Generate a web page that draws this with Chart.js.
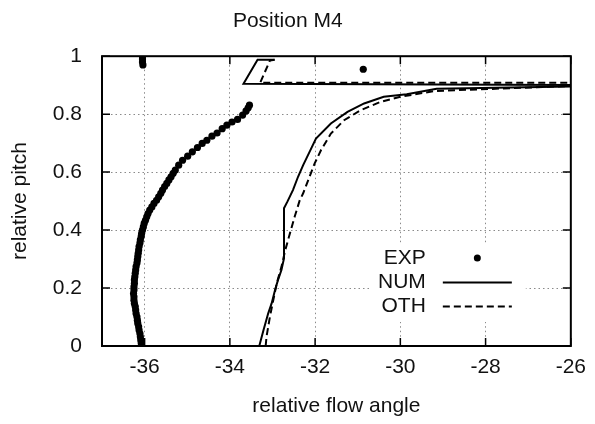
<!DOCTYPE html>
<html>
<head>
<meta charset="utf-8">
<script src="https://cdn.jsdelivr.net/npm/chart.js@4.4.1/dist/chart.umd.min.js"></script>
<style>
  html, body { margin: 0; padding: 0; background: #fff; }
  #wrap { width: 595px; height: 424px; }
</style>
</head>
<body>
<div id="wrap"><canvas id="grafico" width="595" height="424"></canvas></div>
<script>
// measured points, pitch going up
const expY = [0.000, 0.010, 0.021, 0.032, 0.043, 0.055, 0.066, 0.078, 0.089, 0.101,
    0.112, 0.124, 0.136, 0.147, 0.158, 0.170, 0.181, 0.193, 0.204, 0.216,
    0.228, 0.239, 0.251, 0.262, 0.274, 0.286, 0.297, 0.309, 0.320, 0.331,
    0.343, 0.355, 0.366, 0.378, 0.389, 0.400, 0.411, 0.423, 0.434, 0.446,
    0.457, 0.469, 0.480, 0.492, 0.503, 0.515, 0.527, 0.538, 0.550, 0.561,
    0.573, 0.584, 0.596, 0.607, 0.624, 0.641, 0.655, 0.670, 0.685, 0.699,
    0.710, 0.724, 0.735, 0.750, 0.762, 0.773, 0.782, 0.797, 0.811, 0.822,
    0.831, 0.955, 0.970, 0.980, 0.990, 1.000];
const expX = [-36.07, -36.08, -36.09, -36.10, -36.11, -36.13, -36.14, -36.16, -36.17, -36.18,
    -36.20, -36.21, -36.22, -36.24, -36.25, -36.25, -36.26, -36.25, -36.25, -36.24,
    -36.24, -36.23, -36.22, -36.21, -36.20, -36.18, -36.17, -36.16, -36.15, -36.14,
    -36.13, -36.11, -36.10, -36.08, -36.07, -36.05, -36.03, -36.01, -35.98, -35.95,
    -35.92, -35.88, -35.83, -35.78, -35.72, -35.67, -35.62, -35.58, -35.53, -35.48,
    -35.43, -35.38, -35.33, -35.28, -35.20, -35.11, -34.99, -34.88, -34.76, -34.65,
    -34.54, -34.42, -34.30, -34.18, -34.07, -33.95, -33.82, -33.70, -33.62, -33.57,
    -33.54, -30.87, -36.04, -36.05, -36.05, -36.05];

// computed profiles (the jump near 0.9 wraps past the right edge)
const numY = [0.000, 0.055, 0.113, 0.147, 0.193, 0.228, 0.262, 0.302, 0.475, 0.498,
    0.538, 0.584, 0.624, 0.670, 0.716, 0.768, 0.808, 0.837, 0.860, 0.869,
    0.888, 0.900, 0.905, 0.988, 0.988];
const numX = [-33.31, -33.21, -33.10, -33.02, -32.94, -32.87, -32.79, -32.73, -32.73, -32.65,
    -32.52, -32.40, -32.28, -32.13, -31.98, -31.63, -31.24, -30.85, -30.39, -29.85,
    -29.15, -24.00, -33.68, -33.35, -32.95];

const othY = [0.000, 0.032, 0.101, 0.159, 0.216, 0.273, 0.331, 0.389, 0.446, 0.503,
    0.527, 0.584, 0.630, 0.676, 0.733, 0.779, 0.814, 0.842, 0.860, 0.880,
    0.908, 0.908, 0.985, 0.988];
const othX = [-33.16, -33.14, -33.06, -32.98, -32.90, -32.79, -32.70, -32.59, -32.48, -32.36,
    -32.28, -32.13, -32.01, -31.86, -31.63, -31.32, -30.93, -30.47, -30.00, -29.19,
    -24.00, -33.29, -33.06, -32.95];

const xTicks = [-36, -34, -32, -30, -28, -26];
const yTicks = [0, 0.2, 0.4, 0.6, 0.8, 1];
const nombres = ['EXP', 'NUM', 'OTH'];

const FUENTE = '"Liberation Sans", Arial, Helvetica, sans-serif';
const TAM = 21;
const TINTA = '#111';

function juntar(xs, ys) {
    return xs.map((x, i) => ({ x: x, y: ys[i] }));
}

// box round the plot with small inward ticks on every side
const marco = {
    id: 'marco',
    afterDatasetsDraw(chart) {
        const { ctx, chartArea: a, scales } = chart;
        ctx.save();
        ctx.strokeStyle = '#000';
        ctx.lineWidth = 1.5;
        ctx.beginPath();
        xTicks.forEach(v => {
            const px = scales.x.getPixelForValue(v);
            ctx.moveTo(px, a.bottom); ctx.lineTo(px, a.bottom - 8);
            ctx.moveTo(px, a.top); ctx.lineTo(px, a.top + 8);
        });
        yTicks.forEach(v => {
            const py = scales.y.getPixelForValue(v);
            ctx.moveTo(a.left, py); ctx.lineTo(a.left + 8, py);
            ctx.moveTo(a.right, py); ctx.lineTo(a.right - 8, py);
        });
        ctx.stroke();
        ctx.lineWidth = 2;
        ctx.strokeRect(a.left, a.top, a.right - a.left, a.bottom - a.top);
        ctx.restore();
    }
};

// key in the lower right, text on the left of each sample
const clave = {
    id: 'clave',
    afterDatasetsDraw(chart) {
        const { ctx, chartArea: a } = chart;
        const textoX = a.right - 145;
        const x1 = a.right - 128, x2 = a.right - 59;
        const filas = [a.bottom - 88, a.bottom - 63.5, a.bottom - 39.5];
        ctx.save();
        ctx.fillStyle = '#fff';
        ctx.fillRect(a.right - 199, a.bottom - 103, 154, 79);
        ctx.font = TAM + 'px ' + FUENTE;
        ctx.fillStyle = TINTA;
        ctx.textAlign = 'right';
        ctx.textBaseline = 'middle';
        nombres.forEach((n, i) => ctx.fillText(n, textoX, filas[i]));
        ctx.fillStyle = '#000';
        ctx.beginPath();
        ctx.arc((x1 + x2) / 2, filas[0], 3.5, 0, Math.PI * 2);
        ctx.fill();
        ctx.strokeStyle = '#000';
        ctx.lineWidth = 2;
        ctx.beginPath();
        ctx.moveTo(x1, filas[1]); ctx.lineTo(x2, filas[1]);
        ctx.stroke();
        ctx.setLineDash([7, 4]);
        ctx.beginPath();
        ctx.moveTo(x1, filas[2]); ctx.lineTo(x2, filas[2]);
        ctx.stroke();
        ctx.restore();
    }
};

const data = {
    datasets: [{
        label: nombres[0],
        data: juntar(expX, expY),
        showLine: false,
        pointRadius: 3.6,
        pointBackgroundColor: '#000',
        pointBorderWidth: 0
    }, {
        label: nombres[1],
        data: juntar(numX, numY),
        showLine: true,
        borderColor: '#000',
        borderWidth: 2,
        pointRadius: 0
    }, {
        label: nombres[2],
        data: juntar(othX, othY),
        showLine: true,
        borderColor: '#000',
        borderWidth: 2,
        borderDash: [7, 4],
        pointRadius: 0
    }]
};

const config = {
    type: 'scatter',
    data: data,
    plugins: [marco, clave],
    options: {
        responsive: false,
        animation: false,
        layout: { padding: { left: 0, right: 19.5, top: 0, bottom: 0 } },
        plugins: {
            legend: { display: false },
            tooltip: { enabled: false },
            title: {
                display: true,
                text: 'Position M4',
                color: TINTA,
                font: { family: FUENTE, size: TAM, weight: 'normal' },
                padding: { top: 9, bottom: 22 }
            }
        },
        scales: {
            x: {
                type: 'linear',
                min: -37,
                max: -26,
                afterBuildTicks: s => { s.ticks = xTicks.map(v => ({ value: v })); },
                afterFit: s => { s.height = 78; },
                ticks: {
                    color: TINTA,
                    font: { family: FUENTE, size: TAM },
                    padding: 9,
                    maxRotation: 0,
                    callback: v => String(v)
                },
                grid: { color: '#8a8a8a', lineWidth: 1, drawTicks: false },
                border: { display: false, dash: [1.5, 3] },
                title: {
                    display: true,
                    text: 'relative flow angle',
                    color: TINTA,
                    font: { family: FUENTE, size: TAM },
                    padding: { top: 0, bottom: 5 }
                }
            },
            y: {
                type: 'linear',
                min: 0,
                max: 1,
                afterBuildTicks: s => { s.ticks = yTicks.map(v => ({ value: v })); },
                afterFit: s => { s.width = 102; },
                ticks: {
                    color: TINTA,
                    font: { family: FUENTE, size: TAM },
                    padding: 20,
                    callback: v => String(+v.toFixed(1))
                },
                grid: { color: '#8a8a8a', lineWidth: 1, drawTicks: false },
                border: { display: false, dash: [1.5, 3] },
                title: {
                    display: true,
                    text: 'relative pitch',
                    color: TINTA,
                    font: { family: FUENTE, size: TAM },
                    padding: { top: 8, bottom: 0 }
                }
            }
        }
    }
};

const miGrafico = new Chart(document.getElementById('grafico'), config);
</script>
</body>
</html>
